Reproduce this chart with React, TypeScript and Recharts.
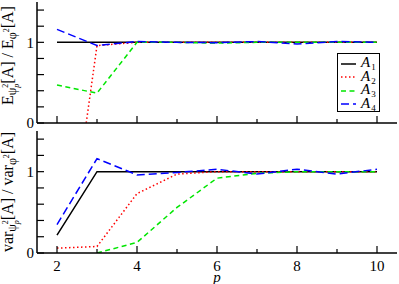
import React from 'react';
import { LineChart, Line, XAxis, YAxis, Legend } from 'recharts';

const P = [2, 3, 4, 5, 6, 7, 8, 9, 10];
const X_TICKS = [2, 3, 4, 5, 6, 7, 8, 9, 10];
const X_LABELS = [2, 4, 6, 8, 10];
const Y_TICKS = [0, 0.2, 0.4, 0.6, 0.8, 1, 1.2, 1.4];
const Y_LABELS = [0, 1];

// top panel: E ratio
const A1_E = [1, 1, 1, 1, 1, 1, 1, 1, 1];
const A2_E = [-2.6, 0.96, 1.0, 1.0, 1.0, 1.0, 1.0, 1.0, 1.0];
const A3_E = [0.47, 0.37, 1.0, 1.0, 0.99, 1.0, 1.0, 1.0, 1.0];
const A4_E = [1.16, 0.96, 1.01, 1.0, 0.995, 1.01, 0.98, 1.01, 1.0];

// bottom panel: var ratio
const A1_V = [0.22, 1, 1, 1, 1, 1, 1, 1, 1];
const A2_V = [0.06, 0.08, 0.73, 0.97, 1.0, 1.0, 1.0, 1.0, 1.0];
const A3_V = [null, 0.0, 0.13, 0.56, 0.92, 0.98, 1.0, 1.0, 1.0];
const A4_V = [0.35, 1.16, 0.96, 0.99, 1.03, 0.97, 1.03, 0.97, 1.03];

const SERIES = [
  { key: 'a1', idx: '1', color: '#000000', dash: undefined as string | undefined },
  { key: 'a2', idx: '2', color: '#ff0000', dash: '1.5 2.5' },
  { key: 'a3', idx: '3', color: '#00e600', dash: '5 3.5' },
  { key: 'a4', idx: '4', color: '#0000ff', dash: '8 4' },
];

const topData = P.map((p, i) => ({ p, a1: A1_E[i], a2: A2_E[i], a3: A3_E[i], a4: A4_E[i] }));
const bottomData = P.map((p, i) => ({ p, a1: A1_V[i], a2: A2_V[i], a3: A3_V[i], a4: A4_V[i] }));

const FONT = "'Liberation Serif', 'DejaVu Serif', serif";
const AXIS = { stroke: '#000', strokeWidth: 1.5 };

const BottomTick = (props: any) => {
  const { x, y, payload, showLabel } = props;
  const major = X_LABELS.includes(payload.value);
  return (
    <g>
      <line x1={x} x2={x} y1={y} y2={y - (major ? 7 : 4)} stroke="#000" strokeWidth={1.2} />
      {showLabel && major && (
        <text x={x} y={y + 18} textAnchor="middle" fontSize={15} fontFamily={FONT} fill="#000">
          {payload.value}
        </text>
      )}
    </g>
  );
};

const TopTick = (props: any) => {
  const { x, y } = props;
  return <line x1={x} x2={x} y1={y} y2={y + 7} stroke="#000" strokeWidth={1.2} />;
};

const LeftTick = (props: any) => {
  const { x, y, payload } = props;
  return (
    <g>
      <line x1={x} x2={x + 7} y1={y} y2={y} stroke="#000" strokeWidth={1.2} />
      {Y_LABELS.includes(payload.value) && (
        <text x={x - 3} y={y} dy="0.35em" textAnchor="end" fontSize={15} fontFamily={FONT} fill="#000">
          {payload.value}
        </text>
      )}
    </g>
  );
};

const RightTick = (props: any) => {
  const { x, y } = props;
  return <line x1={x} x2={x - 7} y1={y} y2={y} stroke="#000" strokeWidth={1.2} />;
};

const YTitle = ({ viewBox, word, shift }: any) => {
  const x = 13;
  const cy = viewBox.y + viewBox.height / 2 + shift;
  return (
    <text
      x={x}
      y={cy}
      transform={`rotate(-90 ${x} ${cy})`}
      textAnchor="middle"
      fontSize={16}
      fontFamily={FONT}
      fill="#000"
    >
      {word}
      <tspan fontSize={12} dy={3}>ψ</tspan>
      <tspan fontSize={8} dy={-8}>2</tspan>
      <tspan fontSize={8} dx={-4} dy={11} fontStyle="italic">p</tspan>
      <tspan fontSize={16} dy={-6}>{'[A] / ' + word}</tspan>
      <tspan fontSize={12} dy={3}>φ</tspan>
      <tspan fontSize={8} dy={-7}>2</tspan>
      <tspan fontSize={16} dy={4}>[A]</tspan>
    </text>
  );
};

const LegendBox = () => (
  <div
    style={{
      border: '1px solid #000',
      background: '#fff',
      width: 43,
      height: 59,
      boxSizing: 'border-box',
      padding: '3px 0 0 3px',
      fontFamily: FONT,
      fontSize: 15,
      lineHeight: '13px',
    }}
  >
    {SERIES.map((s) => (
      <div key={s.key} style={{ display: 'flex', alignItems: 'center', height: 13.5 }}>
        <svg width={15} height={6}>
          <line x1={0} x2={15} y1={3} y2={3} stroke={s.color} strokeWidth={1.5} strokeDasharray={s.dash} />
        </svg>
        <span style={{ marginLeft: 5 }}>
          <i>A</i>
          <sub style={{ fontSize: 9, verticalAlign: 'baseline', position: 'relative', top: 3, marginLeft: 1 }}>
            {s.idx}
          </sub>
        </span>
      </div>
    ))}
  </div>
);

const renderLines = () =>
  SERIES.map((s) => (
    <Line
      key={s.key}
      xAxisId="b"
      yAxisId="l"
      dataKey={s.key}
      type="linear"
      stroke={s.color}
      strokeWidth={1.5}
      strokeDasharray={s.dash}
      dot={false}
      activeDot={false}
      isAnimationActive={false}
    />
  ));

export default function App() {
  const commonX = {
    dataKey: 'p',
    type: 'number' as const,
    domain: [1.5, 10.5],
    allowDataOverflow: true,
    ticks: X_TICKS,
    interval: 0 as const,
    tickSize: 0,
    tickMargin: 0,
    tickLine: false,
    axisLine: AXIS,
  };
  const commonY = {
    type: 'number' as const,
    domain: [0, 1.5],
    allowDataOverflow: true,
    ticks: Y_TICKS,
    interval: 0 as const,
    tickSize: 0,
    tickMargin: 0,
    tickLine: false,
    axisLine: AXIS,
  };
  return (
    <div style={{ position: 'absolute', left: 0, top: 0, width: 399, height: 284, background: '#fff' }}>
      <div style={{ position: 'absolute', left: 0, top: 128 }}>
        <LineChart width={399} height={156} data={bottomData} margin={{ top: 3, right: 2, bottom: 0, left: 0 }}>
          <XAxis
            xAxisId="b"
            {...commonX}
            height={31}
            tick={(p: any) => <BottomTick {...p} showLabel />}
            label={(p: any) => {
              const vb = p.viewBox;
              return (
                <text
                  x={vb.x + vb.width / 2}
                  y={vb.y + 29}
                  textAnchor="middle"
                  fontSize={15}
                  fontStyle="italic"
                  fontFamily={FONT}
                  fill="#000"
                >
                  p
                </text>
              );
            }}
          />
          <XAxis xAxisId="t" orientation="top" {...commonX} height={0} tick={(p: any) => <TopTick {...p} />} />
          <YAxis
            yAxisId="l"
            {...commonY}
            width={37}
            tick={(p: any) => <LeftTick {...p} />}
            label={(p: any) => <YTitle {...p} word="var" shift={0} />}
          />
          <YAxis yAxisId="r" orientation="right" {...commonY} width={0} tick={(p: any) => <RightTick {...p} />} />
          {renderLines()}
        </LineChart>
      </div>
      <div style={{ position: 'absolute', left: 0, top: 0 }}>
        <LineChart width={399} height={132} data={topData} margin={{ top: 2, right: 2, bottom: 0, left: 0 }}>
          <XAxis xAxisId="b" {...commonX} height={9} tick={(p: any) => <BottomTick {...p} showLabel={false} />} />
          <XAxis xAxisId="t" orientation="top" {...commonX} height={0} tick={(p: any) => <TopTick {...p} />} />
          <YAxis
            yAxisId="l"
            {...commonY}
            width={37}
            tick={(p: any) => <LeftTick {...p} />}
            label={(p: any) => <YTitle {...p} word="E" shift={-7} />}
          />
          <YAxis yAxisId="r" orientation="right" {...commonY} width={0} tick={(p: any) => <RightTick {...p} />} />
          <Legend
            layout="vertical"
            align="center"
            verticalAlign="middle"
            content={() => <LegendBox />}
            wrapperStyle={{ position: 'absolute', left: 337, top: 53, width: 43, height: 59 }}
          />
          {renderLines()}
        </LineChart>
      </div>
    </div>
  );
}
